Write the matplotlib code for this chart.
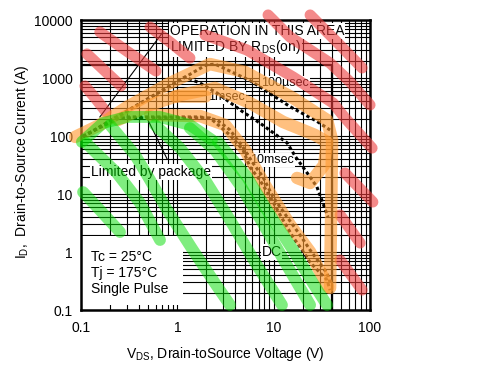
import matplotlib
matplotlib.use('Agg')
import matplotlib.pyplot as plt
from matplotlib.ticker import LogLocator, FuncFormatter, NullFormatter
from matplotlib.patches import Rectangle

plt.rcParams['font.family'] = ['Liberation Sans', 'DejaVu Sans']
plt.rcParams['mathtext.fontset'] = 'custom'
plt.rcParams['mathtext.rm'] = 'Liberation Sans'
plt.rcParams['mathtext.it'] = 'Liberation Sans:italic'
plt.rcParams['mathtext.bf'] = 'Liberation Sans:bold'

# ---------------- data ----------------
x_ticks = [0.1, 1, 10, 100]
y_ticks = [0.1, 1, 10, 100, 1000, 10000]

# SOA boundary (package / BVdss)
bound_v = [0.1, 40.4, 40.4]
bound_i = [1680, 1680, 0.1]

# pulse curves
us100_v = [0.105, 1.98, 2.46, 5.7, 9.2, 14.8, 28, 38.5]
us100_i = [97, 1675, 1740, 900, 540, 320, 180, 127]
ms1_v = [0.105, 1.2, 1.72, 2.58, 4.8, 7.2, 13.8, 16.9, 22.3, 28.1, 36.7]
ms1_i = [97, 1040, 818, 552, 260, 167, 76, 43.5, 23, 13.3, 4.0]
ms10_v = [0.105, 0.236, 1.72, 2.58, 3.52, 4.8, 6.1, 7.7, 9.8, 13.8, 18.8, 23.9, 35.8, 38.5]
ms10_i = [97, 213, 213, 189, 127, 64, 34, 20, 9, 4, 1.96, 1.08, 0.43, 0.30]
dc_v = [0.105, 0.25, 2.18, 3.52, 4.8, 5.69, 7.18, 9.18, 12.5, 15.9, 18.8, 23.9, 35.8, 38.5]
dc_i = [100, 205, 205, 104, 57.4, 29, 17.4, 9.0, 3.56, 1.8, 1.22, 0.66, 0.33, 0.22]

# leader lines
rds_lead_v = [0.157, 0.709]
rds_lead_i = [213, 6210]
pkg_lead_v = [0.484, 0.784]
pkg_lead_i = [205, 40]

# hand-drawn highlighter strokes
red_strokes = [
    ([0.157, 0.308, 0.601], [6210, 2810, 1320]),
    ([0.1154, 0.173, 0.260], [2596, 1373, 728]),
    ([0.110, 0.143, 0.182], [728, 434, 260]),
    ([0.521, 0.837, 1.35], [7570, 4170, 2210]),
    ([1.94, 5.29, 15.9, 41.3, 55.0, 105], [5520, 3040, 1040, 371, 205, 62]),
    ([23.9, 41.3, 82.8], [12200, 4890, 1490]),
    ([8.75, 14.8, 23.9, 38.5, 62.1, 100], [12200, 5090, 3040, 1810, 853, 343]),
    ([55.0, 107], [23.0, 7.28]),
    ([48.9, 78.9], [4.35, 1.43]),
    ([48.9, 82.8], [0.727, 0.221]),
]
orange_strokes = [
    ([0.087, 0.157, 0.300, 0.837, 2.18, 5.04, 15.9, 35.8, 40.4, 39.4, 38.5],
     [96.5, 155, 316, 818, 1740, 1270, 452, 189, 85.3, 3.56, 0.24]),
    ([0.242, 0.521, 1.067, 2.46, 5.69, 12.5, 26.9, 35.8, 33.4, 23.9, 17.5],
     [189, 343, 509, 673, 371, 175, 104, 78.9, 31.6, 15.5, 18.9]),
    ([0.521, 1.72, 3.13, 5.04, 8.10, 14.8, 23.9, 36.7],
     [230, 221, 155, 57.4, 14.3, 2.92, 1.0, 0.25]),
    ([0.945, 1.94], [490, 490]),
]
green_strokes = [
    ([0.102, 0.169, 0.300, 0.661, 1.35, 2.29], [78.9, 167, 213, 213, 155, 85.3]),
    ([0.105, 0.157, 0.254], [10.8, 5.30, 2.21]),
    ([0.113, 0.236, 0.410, 0.661], [75.7, 23.0, 7.0, 1.61]),
    ([0.200, 0.364, 0.521, 0.784, 1.45, 2.46, 3.52], [155, 47.1, 17.4, 5.30, 1.08, 0.29, 0.122]),
    ([0.586, 1.067, 1.94, 3.52, 6.40, 12.2], [155, 62, 17.4, 3.56, 0.67, 0.122]),
    ([1.35, 2.46, 4.47, 7.58, 13.1, 23.9], [137, 57.4, 14.3, 3.29, 0.67, 0.122]),
    ([2.64, 5.29, 8.50, 15.9, 25.6, 35.8], [78.9, 19.7, 5.30, 1.08, 0.29, 0.122]),
]

# ---------------- figure ----------------
fig = plt.figure(figsize=(4.95, 3.68), dpi=100)
ax = fig.add_axes([81/495, 58/368, 289/495, 290/368])
ax.set_xscale('log')
ax.set_yscale('log')
ax.set_xlim(0.1, 100)
ax.set_ylim(0.1, 10000)

ax.xaxis.set_major_locator(LogLocator(base=10, numticks=10))
ax.yaxis.set_major_locator(LogLocator(base=10, numticks=10))
ax.xaxis.set_minor_locator(LogLocator(base=10, subs=range(2, 10), numticks=20))
ax.yaxis.set_minor_locator(LogLocator(base=10, subs=range(2, 10), numticks=20))
fmt = FuncFormatter(lambda v, p: '{:g}'.format(v))
ax.xaxis.set_major_formatter(fmt)
ax.yaxis.set_major_formatter(fmt)
ax.xaxis.set_minor_formatter(NullFormatter())
ax.yaxis.set_minor_formatter(NullFormatter())
ax.set_xticks(x_ticks)
ax.set_yticks(y_ticks)
ax.tick_params(which='both', length=0, labelsize=10, colors='black')
ax.tick_params(axis='x', pad=8)
ax.tick_params(axis='y', pad=6)
ax.grid(which='both', color='black', lw=0.8)
ax.set_axisbelow(True)
for s in ax.spines.values():
    s.set_linewidth(1.8)

# white box behind the conditions text
ax.add_patch(Rectangle((0.1, 0.122), 1.046, 1.77, facecolor='white',
                       edgecolor='none', zorder=0.8))

# curves
ax.plot(bound_v, bound_i, color='black', lw=1.6, zorder=3)
dot = (0, (1.1, 0.9))
for v, i in [(us100_v, us100_i), (ms1_v, ms1_i), (ms10_v, ms10_i), (dc_v, dc_i)]:
    ax.plot(v, i, color='black', lw=2.2, linestyle=dot, zorder=3)
ax.plot(rds_lead_v, rds_lead_i, color='black', lw=0.8, zorder=3)
ax.plot(pkg_lead_v, pkg_lead_i, color='black', lw=0.8, zorder=3)

# labels
wb = dict(facecolor='white', edgecolor='none', pad=0.6)
ax.text(0.84, 6470, 'OPERATION IN THIS AREA', fontsize=10, va='center', ha='left', bbox=wb, zorder=2)
ax.text(0.84, 3420, r'LIMITED BY R$_{\mathrm{DS}}$(on)', fontsize=10, va='center', ha='left', bbox=wb, zorder=2)
ax.text(7.4, 818, '100µsec', fontsize=9, va='center', ha='left', bbox=wb, zorder=2)
ax.text(2.08, 470, '1msec', fontsize=9, va='center', ha='left', bbox=wb, zorder=2)
ax.text(5.69, 38.6, '10msec', fontsize=9, va='center', ha='left', bbox=wb, zorder=2)
ax.text(7.5, 1.0, 'DC', fontsize=10, va='center', ha='left', bbox=wb, zorder=2)
ax.text(0.127, 23.9, 'Limited by package', fontsize=10, va='center', ha='left', bbox=wb, zorder=2)
ax.text(0.127, 0.43, 'Tc = 25°C\nTj = 175°C\nSingle Pulse', fontsize=10, va='center',
        ha='left', linespacing=1.2, zorder=2)

# highlighter strokes
def stroke(v, i, color, alpha, lw):
    ax.plot(v, i, color=color, alpha=alpha, lw=lw, solid_capstyle='round',
            solid_joinstyle='round', clip_on=False, zorder=5)

for v, i in red_strokes:
    stroke(v, i, '#ee3c3c', 0.6, 8)
for v, i in orange_strokes:
    stroke(v, i, '#ff9a30', 0.62, 9)
for v, i in green_strokes:
    stroke(v, i, '#00dd00', 0.5, 8.5)

fig.text(225.5/495, 1 - 358/368, r'V$_{\mathrm{DS}}$, Drain-toSource Voltage (V)',
         fontsize=10, ha='center', va='baseline')
fig.text(22/495, 1 - 162/368, r'I$_{\mathrm{D}}$,  Drain-to-Source Current (A)',
         fontsize=10, ha='center', va='center', rotation=90)

fig.savefig('out.png', dpi=100)
